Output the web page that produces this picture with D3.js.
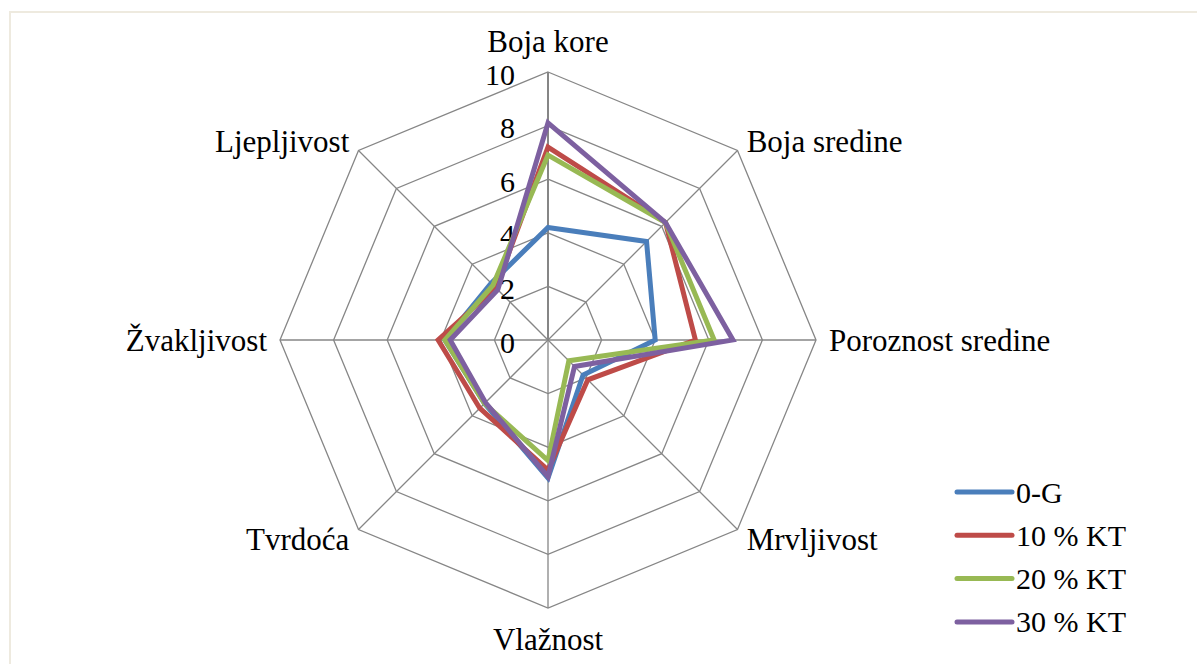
<!DOCTYPE html>
<html>
<head>
<meta charset="utf-8">
<script src="https://cdn.jsdelivr.net/npm/d3@7"></script>
<style>
  body { margin: 0; background: #fff; }
</style>
</head>
<body>
<svg id="chart"></svg>
<script>
// Axes (clockwise from the top)
var axes = ["Boja kore", "Boja sredine", "Poroznost sredine", "Mrvljivost",
            "Vlažnost", "Tvrdoća", "Žvakljivost", "Ljepljivost"];
var seriesNames = ["0-G", "10 % KT", "20 % KT", "30 % KT"];
var seriesColors = ["#4a7ebb", "#be4b48", "#98b954", "#7d60a0"];
var g0 = [4.2, 5.2, 4.0, 1.85, 5.15, 3.35, 3.85, 3.0];
var kt10 = [7.2, 6.2, 5.5, 2.1, 4.85, 3.6, 4.1, 2.75];
var kt20 = [6.9, 6.2, 6.2, 1.1, 4.5, 3.35, 3.85, 2.9];
var kt30 = [8.1, 6.2, 6.9, 1.4, 5.1, 3.3, 3.65, 2.65];
var tickValues = [0, 2, 4, 6, 8, 10];

var w = 1197;
var h = 664;
var cx = 548;
var cy = 340;
var font = "'Liberation Serif', Tinos, 'DejaVu Serif', 'Noto Serif', serif";

var svg = d3.select("#chart").attr("width", w).attr("height", h);

// frame
svg.append("rect")
    .attr("x", 10).attr("y", 12)
    .attr("width", 1250).attr("height", 800)
    .attr("fill", "none")
    .attr("stroke", "#eeeadf")
    .attr("stroke-width", 2);

var r = d3.scaleLinear().domain([0, 10]).range([0, 268]);
var angle = function(i) { return i * 2 * Math.PI / axes.length; };
var px = function(i, v) { return cx + r(v) * Math.sin(angle(i)); };
var py = function(i, v) { return cy - r(v) * Math.cos(angle(i)); };

var g = svg.append("g");

// grid rings
tickValues.slice(1).forEach(function(t) {
    g.append("polygon")
        .attr("points", axes.map(function(a, i) { return px(i, t) + "," + py(i, t); }).join(" "))
        .attr("fill", "none")
        .attr("stroke", "#868686")
        .attr("stroke-width", 1.3);
});

// spokes
axes.forEach(function(a, i) {
    g.append("line")
        .attr("x1", cx).attr("y1", cy)
        .attr("x2", px(i, 10)).attr("y2", py(i, 10))
        .attr("stroke", "#868686")
        .attr("stroke-width", i === 0 ? 2 : 1.3);
});

// tick labels
g.selectAll(".tick")
    .data(tickValues)
    .enter()
    .append("text")
    .attr("x", cx - 33)
    .attr("y", function(d) { return cy - r(d) + 2; })
    .attr("dy", "0.35em")
    .attr("text-anchor", "end")
    .attr("font-family", font)
    .attr("font-size", 30)
    .text(function(d) { return d; });

// axis labels
axes.forEach(function(a, i) {
    var s = Math.sin(angle(i));
    var c = Math.cos(angle(i));
    var t = g.append("text")
        .attr("font-family", font)
        .attr("font-size", 31)
        .text(a);
    if (Math.abs(s) < 0.01) {
        t.attr("x", cx).attr("y", cy - 299 * c)
            .attr("dy", "0.35em")
            .attr("text-anchor", "middle");
    } else {
        t.attr("x", cx + 281 * s).attr("y", cy - 281 * c)
            .attr("dy", "0.35em")
            .attr("text-anchor", s > 0 ? "start" : "end");
    }
});

// series
var data = [g0, kt10, kt20, kt30];
var line = d3.lineRadial()
    .angle(function(d, i) { return angle(i); })
    .radius(function(d) { return r(d); })
    .curve(d3.curveLinearClosed);

var sg = svg.append("g").attr("transform", "translate(" + cx + "," + cy + ")");
sg.selectAll("path")
    .data(data)
    .enter()
    .append("path")
    .attr("d", line)
    .attr("fill", "none")
    .attr("stroke", function(d, i) { return seriesColors[i]; })
    .attr("stroke-width", 5)
    .attr("stroke-linejoin", "miter");

// legend
var legend = svg.append("g").attr("transform", "translate(957,492)");
seriesNames.forEach(function(name, i) {
    var row = legend.append("g").attr("transform", "translate(0," + (i * 43.3) + ")");
    row.append("line")
        .attr("x1", 0).attr("x2", 55)
        .attr("stroke", seriesColors[i])
        .attr("stroke-width", 5)
        .attr("stroke-linecap", "round");
    row.append("text")
        .attr("x", 59)
        .attr("dy", "0.35em")
        .attr("font-family", font)
        .attr("font-size", 30)
        .text(name);
});
</script>
</body>
</html>
